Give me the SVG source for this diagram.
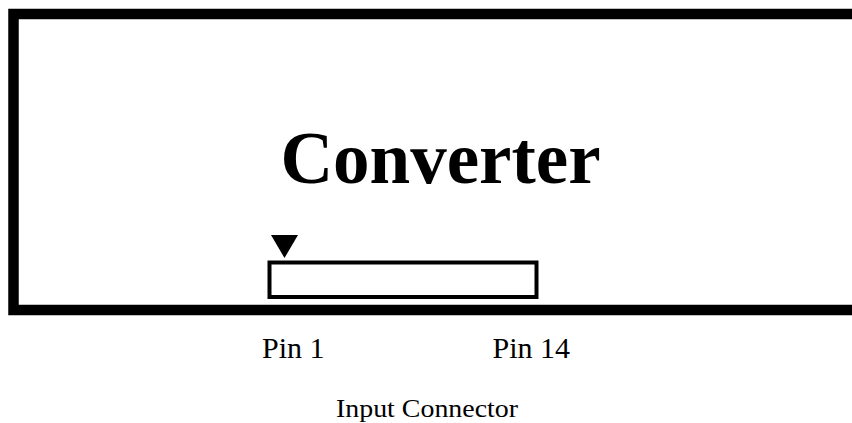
<svg xmlns="http://www.w3.org/2000/svg" width="852" height="423" viewBox="0 0 852 423">
<style>
.frame{fill:#fff;stroke:#000;stroke-width:10.5}
.conn{fill:#fff;stroke:#000;stroke-width:4}
.title{font-family:"Liberation Serif","Times New Roman",serif;font-weight:bold;font-size:73px;fill:#000}
.pin{font-family:"Liberation Serif","Times New Roman",serif;font-size:30px;fill:#000}
.cap{font-family:"Liberation Serif","Times New Roman",serif;font-size:26px;fill:#000}
</style>
<rect width="852" height="423" fill="#fff"/>
<g id="converter">
<rect class="frame" x="13.5" y="14" width="860" height="296"/>
<text class="title" x="440.5" y="183" text-anchor="middle">Converter</text>
</g>
<g id="input-connector">
<rect class="conn" x="269.5" y="262.5" width="267" height="34.5"/>
<polygon points="271,235 298,235 284.5,258" fill="#000"/>
</g>
<g id="connectors"></g>
<g id="labels">
<text class="pin" x="262" y="358">Pin 1</text>
<text class="pin" x="492.5" y="358">Pin 14</text>
<text class="cap" x="336" y="416.5" textLength="182" lengthAdjust="spacingAndGlyphs">Input Connector</text>
</g>
</svg>
